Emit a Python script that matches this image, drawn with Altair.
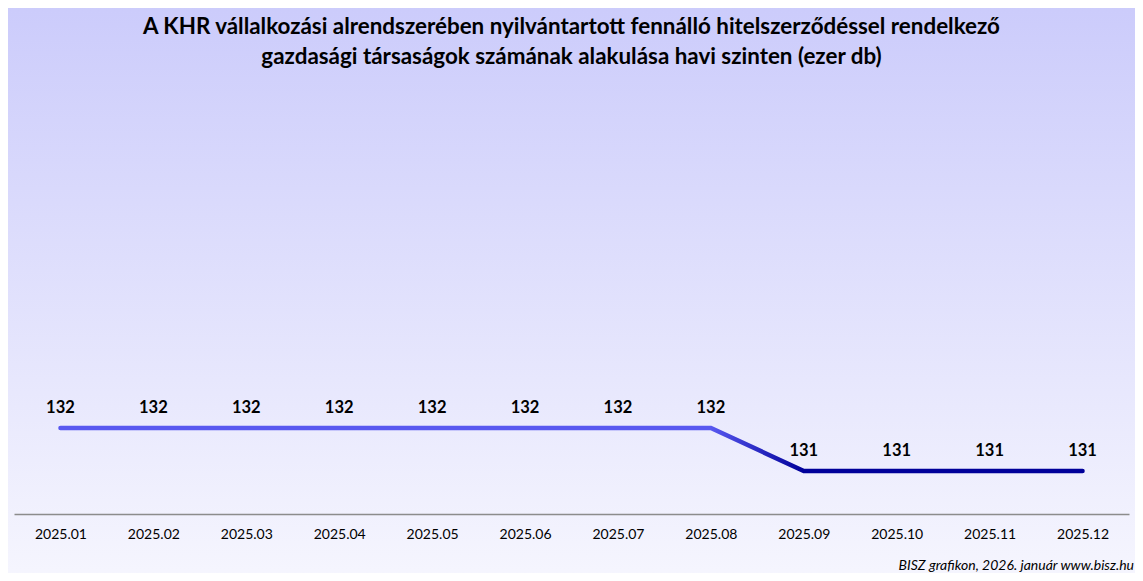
import altair as alt
import pandas as pd

months = ["2025.01", "2025.02", "2025.03", "2025.04", "2025.05", "2025.06",
          "2025.07", "2025.08", "2025.09", "2025.10", "2025.11", "2025.12"]
values = [132, 132, 132, 132, 132, 132, 132, 132, 131, 131, 131, 131]

title_line1 = "A KHR vállalkozási alrendszerében nyilvántartott fennálló hitelszerződéssel rendelkező"
title_line2 = "gazdasági társaságok számának alakulása havi szinten (ezer db)"
footer = "BISZ grafikon, 2026. január www.bisz.hu"

W, H = 1115, 414
PAD = {"left": 6, "top": 92, "right": 6, "bottom": 59}
FONT = "Lato"

df = pd.DataFrame({"month": months, "value": values})

x = alt.X("month:O", sort=months,
          scale=alt.Scale(type="point", padding=0.5),
          axis=alt.Axis(title=None, labelAngle=0, ticks=False, grid=False,
                        domainColor="#8c8c8c", domainWidth=1.5, zindex=2,
                        labelFont=FONT, labelFontSize=14, labelColor="#000000",
                        labelPadding=13))
y = alt.Y("value:Q", scale=alt.Scale(domain=[130, 139.63], zero=False, nice=False),
          axis=None)

bg = alt.Chart(pd.DataFrame({"a": [0]})).mark_rect(
    fill=alt.Gradient(gradient="linear",
                      stops=[alt.GradientStop(color="#cbcbfb", offset=0),
                             alt.GradientStop(color="#f6f6fe", offset=1)],
                      x1=0, x2=0, y1=0, y2=1)
).encode(x=alt.value(-PAD["left"] - 10), x2=alt.value(W + PAD["right"] + 10),
         y=alt.value(-PAD["top"] - 10), y2=alt.value(H + PAD["bottom"] + 10))

line = alt.Chart(df).mark_line(
    strokeWidth=4.5, strokeCap="round", strokeJoin="miter",
    stroke=alt.Gradient(gradient="linear",
                        stops=[alt.GradientStop(color="#5858f0", offset=0),
                               alt.GradientStop(color="#5858f0", offset=0.636),
                               alt.GradientStop(color="#00009a", offset=0.727),
                               alt.GradientStop(color="#00009a", offset=1)],
                        x1=0, x2=1, y1=0, y2=0)
).encode(x=x, y=y)

labels = alt.Chart(df).mark_text(
    dy=-20, font=FONT, fontSize=16.5, fontWeight="bold", color="#000000"
).encode(x=x, y=y, text=alt.Text("value:Q", format="d"))

t1 = alt.Chart(pd.DataFrame({"t": [title_line1]})).mark_text(
    font=FONT, fontSize=22.4, fontWeight="bold", align="center", baseline="middle",
    color="#000000"
).encode(x=alt.value(W / 2), y=alt.value(-73), text="t:N")

t2 = alt.Chart(pd.DataFrame({"t": [title_line2]})).mark_text(
    font=FONT, fontSize=22.4, fontWeight="bold", align="center", baseline="middle",
    color="#000000"
).encode(x=alt.value(W / 2), y=alt.value(-43), text="t:N")

foot = alt.Chart(pd.DataFrame({"t": [footer]})).mark_text(
    font=FONT, fontSize=14, fontStyle="italic", align="right", baseline="middle",
    color="#000000"
).encode(x=alt.value(W + 5), y=alt.value(H + 52), text="t:N")

chart = alt.layer(bg, line, labels, t1, t2, foot).properties(
    width=W, height=H,
    autosize=alt.AutoSizeParams(type="none"),
    padding=PAD,
).configure(background="#f6f6fe").configure_view(stroke=None)

chart.save("out.html", embed_options={"renderer": "svg", "actions": False})
